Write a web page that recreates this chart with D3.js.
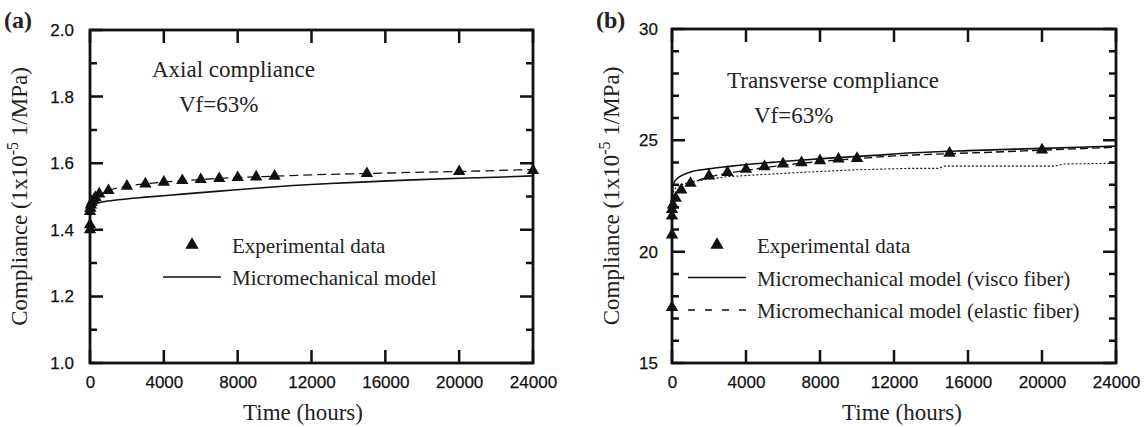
<!DOCTYPE html>
<html>
<head>
<meta charset="utf-8">
<script src="https://cdn.jsdelivr.net/npm/d3@7"></script>
<style>
  body { margin: 0; background: #fff; }
  .tick text { font-family: "Liberation Sans", Arial, sans-serif; font-size: 17px; fill: #111; stroke: #111; stroke-width: 0.25px; }
  .serif { font-family: "Liberation Serif", "Times New Roman", serif; fill: #222; }
</style>
</head>
<body>
<div id="chart"></div>
<script>
// ---- panel (a): axial compliance ----
const expA_t = [0, 0, 0, 20, 50, 100, 200, 300, 500, 1000, 2000, 3000, 4000, 5000, 6000, 7000, 8000, 9000, 10000, 15000, 20000, 24000];
const expA_y = [1.400, 1.415, 1.455, 1.465, 1.475, 1.483, 1.490, 1.497, 1.508, 1.518, 1.531, 1.538, 1.543, 1.548, 1.551, 1.554, 1.557, 1.559, 1.561, 1.569, 1.575, 1.578];
const dashA_t = [300, 1000, 2000, 4000, 6000, 8000, 10000, 12000, 15000, 18000, 20000, 22000, 24000];
const dashA_y = [1.500, 1.518, 1.531, 1.543, 1.551, 1.557, 1.561, 1.565, 1.569, 1.573, 1.575, 1.578, 1.581];
const solidA_t = [0, 30, 100, 300, 700, 1500, 3000, 5000, 7000, 9000, 11000, 13000, 15000, 17500, 20000, 22000, 24000];
const solidA_y = [1.45, 1.465, 1.472, 1.479, 1.484, 1.49, 1.498, 1.507, 1.516, 1.525, 1.533, 1.539, 1.544, 1.55, 1.555, 1.558, 1.562];

// ---- panel (b): transverse compliance ----
const expB_t = [0, 0, 0, 0, 50, 200, 500, 1000, 2000, 3000, 4000, 5000, 6000, 7000, 8000, 9000, 10000, 15000, 20000];
const expB_y = [17.5, 20.75, 21.6, 21.9, 22.1, 22.4, 22.77, 23.07, 23.4, 23.56, 23.7, 23.82, 23.94, 24.0, 24.09, 24.16, 24.19, 24.42, 24.57];
const solidB_t = [0, 30, 100, 300, 600, 1000, 2000, 3000, 4500, 6500, 8500, 10500, 13000, 16000, 20000, 24000];
const solidB_y = [22.2, 22.8, 23.08, 23.3, 23.45, 23.58, 23.72, 23.82, 23.95, 24.08, 24.2, 24.3, 24.44, 24.54, 24.64, 24.74];
const dashB_t = [0, 100, 500, 1000, 2000, 3000, 4000, 6000, 8000, 10000, 12000, 15000, 18000, 20000, 24000];
const dashB_y = [22.2, 22.5, 22.8, 23.05, 23.35, 23.52, 23.65, 23.88, 24.05, 24.18, 24.3, 24.4, 24.49, 24.56, 24.69];
const dotB_t = [0, 100, 300, 1000, 3000, 5000, 7000, 9700, 12800, 14400, 14700, 20700, 21200, 24000];
const dotB_y = [22.3, 22.77, 22.95, 23.14, 23.37, 23.47, 23.56, 23.67, 23.74, 23.74, 23.84, 23.84, 23.94, 23.97];

// ---- ticks ----
const xTicks = [0, 4000, 8000, 12000, 16000, 20000, 24000];
const yTicksA = [1.0, 1.2, 1.4, 1.6, 1.8, 2.0];
const yMinorA = [1.1, 1.3, 1.5, 1.7, 1.9];
const yTicksB = [15, 20, 25, 30];
const yMinorB = [16, 17, 18, 19, 21, 22, 23, 24, 26, 27, 28, 29];

const MAJOR = 13, MINOR = 7;

const svg = d3.select('#chart')
  .append('svg')
  .attr('width', 1146)
  .attr('height', 427);

const zip = (ts, ys) => ts.map((t, i) => ({ t: t, v: ys[i] }));

function drawPanel(cfg) {
  const x = d3.scaleLinear().domain([0, 24000]).range([cfg.left, cfg.right]);
  const y = d3.scaleLinear().domain(cfg.yDomain).range([cfg.bottom, cfg.top]);
  const g = svg.append('g');

  // tick labels from d3 axes
  const bottomAxis = g.append('g')
    .attr('transform', `translate(0,${cfg.bottom})`)
    .call(d3.axisBottom(x).tickValues(xTicks).tickSize(0).tickPadding(13).tickFormat(d3.format('d')));
  const leftAxis = g.append('g')
    .attr('transform', `translate(${cfg.left},0)`)
    .call(d3.axisLeft(y).tickValues(cfg.yTicks).tickSize(0).tickPadding(cfg.yPad).tickFormat(cfg.yFormat));
  [bottomAxis, leftAxis].forEach(a => a.select('.domain').remove());

  // inward ticks on all four sides, one path
  let d = '';
  xTicks.forEach(t => {
    const px = x(t);
    d += `M${px},${cfg.bottom}V${cfg.bottom - MAJOR}M${px},${cfg.top}V${cfg.top + MAJOR}`;
  });
  const yTick = (v, len) => {
    const py = y(v);
    d += `M${cfg.left},${py}H${cfg.left + len}M${cfg.right},${py}H${cfg.right - len}`;
  };
  cfg.yTicks.forEach(v => yTick(v, MAJOR));
  cfg.yMinor.forEach(v => yTick(v, MINOR));
  g.append('path')
    .attr('d', d)
    .attr('fill', 'none')
    .attr('stroke', '#111')
    .attr('stroke-width', 2.5);

  g.append('rect')
    .attr('x', cfg.left).attr('y', cfg.top)
    .attr('width', cfg.right - cfg.left).attr('height', cfg.bottom - cfg.top)
    .attr('fill', 'none').attr('stroke', '#111').attr('stroke-width', 2.8);

  // curves
  cfg.lines.forEach(l => {
    const line = d3.line().x(p => x(p.t)).y(p => y(p.v)).curve(l.curve || d3.curveMonotoneX);
    g.append('path')
      .datum(l.data)
      .attr('d', line)
      .attr('fill', 'none')
      .attr('stroke', '#111')
      .attr('stroke-width', l.width || 1.6)
      .attr('stroke-dasharray', l.dash || null);
  });

  // experimental points
  g.selectAll('path.pt')
    .data(cfg.points)
    .enter()
    .append('path')
    .attr('class', 'pt')
    .attr('d', d3.symbol().type(d3.symbolTriangle).size(66))
    .attr('transform', p => `translate(${x(p.t)},${y(p.v)})`)
    .attr('fill', '#111');

  // panel letter
  g.append('text').attr('class', 'serif')
    .attr('x', cfg.letterX).attr('y', 28)
    .attr('font-size', 24).attr('font-weight', 'bold').attr('fill', '#111')
    .text(cfg.letter);

  // axis titles
  g.append('text').attr('class', 'serif')
    .attr('x', cfg.xTitleX).attr('y', 420)
    .attr('text-anchor', 'middle').attr('font-size', 23)
    .text('Time (hours)');

  const yt = g.append('text').attr('class', 'serif')
    .attr('transform', `translate(${cfg.yTitleX},${(cfg.top + cfg.bottom) / 2}) rotate(-90)`)
    .attr('text-anchor', 'middle').attr('font-size', 23);
  yt.append('tspan').text('Compliance (1x10');
  yt.append('tspan').attr('dy', -9).attr('font-size', 16).text('-5');
  yt.append('tspan').attr('dy', 9).text(' 1/MPa)');

  // annotation
  g.append('text').attr('class', 'serif')
    .attr('x', cfg.noteX).attr('y', cfg.noteY).attr('font-size', 23)
    .text(cfg.note);
  g.append('text').attr('class', 'serif')
    .attr('x', cfg.noteX + 27).attr('y', cfg.noteY + 35).attr('font-size', 23)
    .text('Vf=63%');

  // legend
  cfg.legend.forEach((item, i) => {
    const ly = cfg.legendY + i * cfg.legendStep;
    if (item.kind === 'tri') {
      g.append('path')
        .attr('d', d3.symbol().type(d3.symbolTriangle).size(78))
        .attr('transform', `translate(${cfg.legendSymX},${ly - 8})`)
        .attr('fill', '#111');
    } else {
      g.append('line')
        .attr('x1', cfg.legendSymX - 29).attr('x2', cfg.legendSymX + 29)
        .attr('y1', ly - 8).attr('y2', ly - 8)
        .attr('stroke', '#111').attr('stroke-width', 1.6)
        .attr('stroke-dasharray', item.dash || null);
    }
    g.append('text').attr('class', 'serif')
      .attr('x', cfg.legendTextX).attr('y', ly).attr('font-size', 21)
      .text(item.label);
  });
}

drawPanel({
  left: 90, right: 533, top: 30, bottom: 363,
  yDomain: [1.0, 2.0], yTicks: yTicksA, yMinor: yMinorA, yFormat: d3.format('.1f'), yPad: 16,
  letter: '(a)', letterX: 4, xTitleX: 303, yTitleX: 27,
  note: 'Axial compliance', noteX: 152, noteY: 77,
  points: zip(expA_t, expA_y),
  lines: [
    { data: zip(solidA_t, solidA_y) },
    { data: zip(dashA_t, dashA_y), dash: '9,5', width: 1.3 }
  ],
  legendSymX: 192, legendTextX: 232, legendY: 253, legendStep: 32,
  legend: [
    { kind: 'tri', label: 'Experimental data' },
    { kind: 'line', label: 'Micromechanical model' }
  ]
});

drawPanel({
  left: 672, right: 1116, top: 29, bottom: 363,
  yDomain: [15, 30], yTicks: yTicksB, yMinor: yMinorB, yFormat: d3.format('d'), yPad: 14,
  letter: '(b)', letterX: 596, xTitleX: 902, yTitleX: 619,
  note: 'Transverse compliance', noteX: 727, noteY: 88,
  points: zip(expB_t, expB_y),
  lines: [
    { data: zip(solidB_t, solidB_y) },
    { data: zip(dashB_t, dashB_y), dash: '8,4', width: 1.4 },
    { data: zip(dotB_t, dotB_y), dash: '2,2', width: 1.1, curve: d3.curveLinear }
  ],
  legendSymX: 717, legendTextX: 757, legendY: 253, legendStep: 32.5,
  legend: [
    { kind: 'tri', label: 'Experimental data' },
    { kind: 'line', label: 'Micromechanical model (visco fiber)' },
    { kind: 'line', dash: '7,10', label: 'Micromechanical model (elastic fiber)' }
  ]
});
</script>
</body>
</html>
